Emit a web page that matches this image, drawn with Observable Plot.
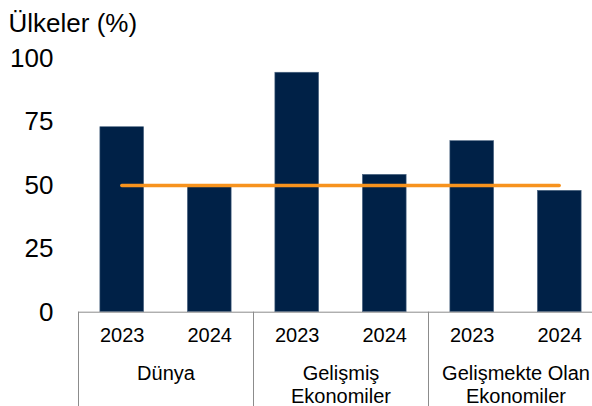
<!DOCTYPE html>
<html>
<head>
<meta charset="utf-8">
<script src="https://cdn.jsdelivr.net/npm/d3@7"></script>
<script src="https://cdn.jsdelivr.net/npm/@observablehq/plot@0.6"></script>
<style>
  html, body { margin: 0; padding: 0; background: #fff; overflow: hidden; }
  #chart { width: 592px; height: 406px; overflow: hidden; }
</style>
</head>
<body>
<div id="chart"></div>
<script>
const title = "Ülkeler (%)";
const groups = ["Dünya", "Gelişmiş\nEkonomiler", "Gelişmekte Olan\nEkonomiler"];
const years = ["2023", "2024"];
const values2023 = [73.0, 94.5, 67.5];
const values2024 = [49.3, 54.2, 47.9];
const threshold = [50];
const yTicks = [0, 25, 50, 75, 100];

const series = [values2023, values2024];
const rows = [];
groups.forEach((g, gi) => {
  years.forEach((yr, yi) => {
    rows.push({ i: gi * 2 + yi, group: g, year: yr, value: series[yi][gi] });
  });
});
const groupRows = groups.map((g, gi) => ({ name: g, center: gi * 2 + 0.5 }));
const dividers = [-0.5].concat(groups.map((g, gi) => gi * 2 + 1.5));

const navy = "#002147";
const orange = "#f7931e";
const grey = "#8c8c8c";
const font = "Liberation Sans, Arial, Helvetica, sans-serif";

const chart = Plot.plot({
  width: 592,
  height: 406,
  marginLeft: 78,
  marginRight: 0,
  marginTop: 58.3,
  marginBottom: 94.3,
  style: { fontFamily: font, background: "#fff", color: "#000" },
  x: { domain: [-0.5, rows.length - 0.5], range: [78, 603], axis: null },
  y: { domain: [0, 100] },
  marks: [
    Plot.rectY(rows, {
      x1: d => d.i - 0.25, x2: d => d.i + 0.25, y: "value",
      fill: navy, stroke: "#4d6784", strokeWidth: 0.6
    }),
    Plot.ruleY([0], { x1: () => -0.5, x2: () => rows.length - 0.5, stroke: grey, strokeWidth: 1 }),
    Plot.ruleX(dividers, { y1: () => 0, y2: () => -40, stroke: grey, strokeWidth: 1 }),
    Plot.ruleY(threshold, {
      x1: () => 0, x2: () => rows.length - 1,
      stroke: orange, strokeWidth: 3.3, strokeLinecap: "round"
    }),
    Plot.axisY({
      ticks: yTicks, tickSize: 0, tickPadding: 25, fontSize: 26,
      fill: "#000", label: null
    }),
    Plot.text(rows, {
      x: "i", text: "year", frameAnchor: "bottom", lineAnchor: "top",
      dy: 16, fontSize: 20, fill: "#000"
    }),
    Plot.text(groupRows, {
      x: "center", text: "name", frameAnchor: "bottom", lineAnchor: "top",
      dy: 51, fontSize: 20, lineHeight: 1.17, fill: "#000"
    }),
    Plot.text([title], {
      frameAnchor: "top-left", dx: -70, dy: -35, textAnchor: "start",
      lineAnchor: "middle", fontSize: 26, fill: "#000"
    })
  ]
});
document.getElementById("chart").appendChild(chart);
</script>
</body>
</html>
